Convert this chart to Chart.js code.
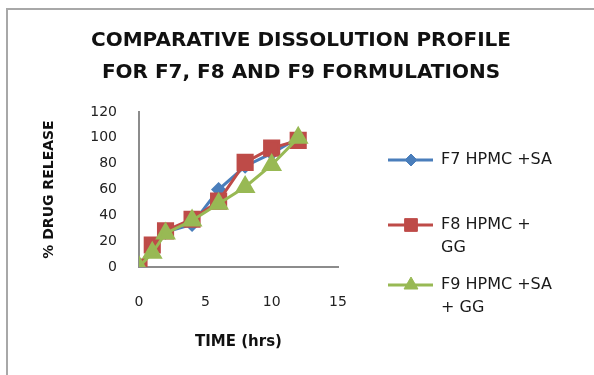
<!DOCTYPE html>
<html>
<head>
<meta charset="utf-8">
<script src="https://cdn.jsdelivr.net/npm/chart.js@4"></script>
<style>
    body { margin: 0; background: #fff; }
    #wrap { position: relative; width: 594px; height: 375px; overflow: hidden; }
    #frame {
        position: absolute; left: 6px; top: 8px; width: 600px; height: 380px;
        border-top: 2px solid #a8a8a8; border-left: 2px solid #a8a8a8;
    }
    canvas { position: absolute; left: 0; top: 0; }
</style>
</head>
<body>
<div id="wrap">
    <div id="frame"></div>
    <canvas id="chart" width="594" height="375"></canvas>
</div>
<script>
const titleLines = ["COMPARATIVE DISSOLUTION PROFILE", "FOR F7, F8 AND F9 FORMULATIONS"]
const timeHrs = [0, 1, 2, 4, 6, 8, 10, 12]
const f7 = [0, 15, 27, 33, 60, 78, 88, 100]
const f8 = [0, 17, 28, 37, 51, 81, 92, 98]
const f9 = [0, 11, 26, 36, 49, 62, 79, 100]
const seriesNames = [["F7 HPMC +SA"], ["F8 HPMC +", "GG"], ["F9 HPMC +SA", "+ GG"]]

function toPoints(values) {
    return values.map((v, i) => ({ x: timeHrs[i], y: v }))
}

// title and legend drawn on the canvas, Excel style
const excelDecor = {
    id: "excelDecor",
    afterDraw(chart) {
        const ctx = chart.ctx
        ctx.save()
        ctx.fillStyle = "#111"
        ctx.textAlign = "center"
        ctx.textBaseline = "middle"
        ctx.font = "bold 20px 'DejaVu Sans'"
        ctx.fillText(titleLines[0], 301, 41)
        ctx.fillText(titleLines[1], 301, 73)

        const rows = [160, 225, 285]
        chart.data.datasets.forEach((ds, i) => {
            const y = rows[i]
            ctx.strokeStyle = ds.borderColor
            ctx.lineWidth = 3
            ctx.beginPath()
            ctx.moveTo(388, y)
            ctx.lineTo(433, y)
            ctx.stroke()
            ctx.fillStyle = ds.backgroundColor
            ctx.lineWidth = 1
            Chart.helpers.drawPoint(ctx, {
                pointStyle: ds.pointStyle,
                radius: ds.legendRadius,
                borderWidth: 1,
                rotation: 0,
            }, 411, y)
            ctx.fillStyle = "#1a1a1a"
            ctx.textAlign = "left"
            ctx.font = "16px 'DejaVu Sans'"
            seriesNames[i].forEach((line, k) => {
                ctx.fillText(line, 441, y + k * 23)
            })
        })
        ctx.restore()
    },
}

const canvas = document.getElementById("chart")
const myChart = new Chart(canvas, {
    type: "line",
    data: {
        datasets: [
            {
                label: seriesNames[0].join(" "),
                data: toPoints(f7),
                borderColor: "#4a7ebb",
                backgroundColor: "#4a7ebb",
                pointStyle: "rectRot",
                pointRadius: 5.5,
                legendRadius: 6,
                borderWidth: 3,
                order: 3,
            },
            {
                label: seriesNames[1].join(" "),
                data: toPoints(f8),
                borderColor: "#be4b48",
                backgroundColor: "#be4b48",
                pointStyle: "rect",
                pointRadius: 10,
                legendRadius: 9,
                borderWidth: 3,
                order: 2,
            },
            {
                label: seriesNames[2].join(" "),
                data: toPoints(f9),
                borderColor: "#98b954",
                backgroundColor: "#98b954",
                pointStyle: "triangle",
                pointRadius: 9,
                legendRadius: 8,
                borderWidth: 3,
                order: 1,
            },
        ],
    },
    options: {
        responsive: false,
        animation: false,
        layout: {
            padding: { top: 112, right: 256, left: 0, bottom: 0 },
        },
        plugins: {
            legend: { display: false },
            tooltip: { enabled: false },
            title: { display: false },
        },
        scales: {
            x: {
                type: "linear",
                min: 0,
                max: 15,
                ticks: {
                    stepSize: 5,
                    padding: 27,
                    color: "#222",
                    font: { family: "DejaVu Sans", size: 14 },
                },
                grid: { display: false, drawTicks: false },
                border: { color: "#8c8c8c", width: 2 },
                title: {
                    display: true,
                    text: "TIME (hrs)",
                    color: "#111",
                    font: { family: "DejaVu Sans", size: 15, weight: "bold" },
                    padding: { top: 0, bottom: 24 },
                },
                afterFit(scale) {
                    scale.height = 108
                },
            },
            y: {
                min: 0,
                max: 120,
                ticks: {
                    stepSize: 20,
                    padding: 22,
                    color: "#222",
                    font: { family: "DejaVu Sans", size: 14 },
                },
                grid: { display: false, drawTicks: false },
                border: { color: "#8c8c8c", width: 2 },
                title: {
                    display: true,
                    text: "% DRUG RELEASE",
                    color: "#111",
                    font: { family: "DejaVu Sans", size: 14, weight: "bold" },
                    padding: { top: 41, bottom: 0 },
                },
                afterFit(scale) {
                    scale.width = 139
                },
            },
        },
    },
    plugins: [excelDecor],
})
</script>
</body>
</html>
